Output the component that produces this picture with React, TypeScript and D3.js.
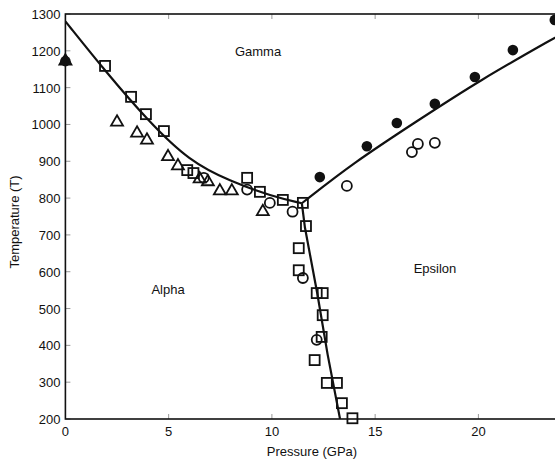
import React from "react";
import { scaleLinear, line, curveBasis, curveLinear, symbol, symbolTriangle, range } from "d3";

// boundaries [pressure, temperature]
const alphaGamma: [number, number][] = [
  [0, 1280], [2, 1140], [4, 1010], [6, 900], [8, 845], [10, 805], [11.45, 786],
];
const gammaEpsilon: [number, number][] = [
  [11.45, 786], [14, 898], [17, 1008], [20, 1118], [24, 1245],
];
const alphaEpsilon: [number, number][] = [
  [11.45, 786], [11.6, 720], [12.2, 540], [12.7, 375], [13.3, 200],
];

const squares: [number, number][] = [
  [1.92, 1159], [3.18, 1075], [3.9, 1028], [4.77, 982], [5.9, 876], [6.2, 868], [8.8, 855],
  [9.42, 817], [10.53, 795], [11.5, 787], [11.65, 724], [11.3, 664], [11.3, 604], [12.17, 542],
  [12.46, 542], [12.46, 482], [12.41, 423], [12.07, 360], [12.66, 298], [13.15, 298], [13.39, 243], [13.9, 202],
];
const triangles: [number, number][] = [
  [0, 1175], [2.5, 1009], [3.47, 979], [3.95, 960], [4.97, 915], [5.45, 890], [6.5, 855], [6.9, 847],
  [7.48, 822], [8.06, 822], [9.56, 766],
];
const openCircles: [number, number][] = [
  [6.7, 855], [8.8, 823], [9.9, 787], [11.0, 763], [11.5, 583], [12.17, 415], [13.63, 833],
  [16.78, 925], [17.07, 947], [17.89, 950],
];
const filledCircles: [number, number][] = [
  [0, 1172], [12.32, 857], [14.6, 941], [16.05, 1004], [17.89, 1056], [19.83, 1129], [21.67, 1202], [23.7, 1284],
];

const xTicks = [0, 5, 10, 15, 20];
const yTicks = range(200, 1301, 100);

const App = () => {
  const width = 555;
  const height = 464;
  const left = 65.4;
  const right = 561;
  const top = 14;
  const bottom = 419;

  const x = scaleLinear().domain([0, 24]).range([left, right]);
  const y = scaleLinear().domain([200, 1300]).range([bottom, top]);

  const smooth = line<[number, number]>()
    .x((d) => x(d[0]))
    .y((d) => y(d[1]))
    .curve(curveBasis);
  const straight = line<[number, number]>()
    .x((d) => x(d[0]))
    .y((d) => y(d[1]))
    .curve(curveLinear);

  const tri = symbol().type(symbolTriangle).size(62)();
  const font = "Liberation Sans, Arial, sans-serif";

  return (
    <svg width={width} height={height} style={{ position: "absolute", left: 0, top: 0, background: "#fff" }}>
      <defs>
        <clipPath id="plot">
          <rect x={left} y={top} width={right - left} height={bottom - top} />
        </clipPath>
      </defs>
      {/* inner ticks */}
      {xTicks.slice(1).map((t) => (
        <g key={"xt" + t} stroke="#999" strokeWidth={1}>
          <line x1={x(t)} x2={x(t)} y1={bottom} y2={bottom - 5} />
          <line x1={x(t)} x2={x(t)} y1={top} y2={top + 5} />
        </g>
      ))}
      {yTicks.map((t) => (
        <g key={"yt" + t} stroke="#999" strokeWidth={1}>
          <line x1={left} x2={left + 5} y1={y(t)} y2={y(t)} />
          <line x1={right} x2={right - 6} y1={y(t)} y2={y(t)} />
        </g>
      ))}
      <g clipPath="url(#plot)" fill="none" stroke="#111" strokeWidth={2.2}>
        <path d={smooth(alphaGamma) || ""} />
        <path d={smooth(gammaEpsilon) || ""} />
        <path d={straight(alphaEpsilon) || ""} />
      </g>
      <g fill="none" stroke="#111" strokeWidth={1.8}>
        {squares.map((d, i) => (
          <rect key={"s" + i} x={x(d[0]) - 5} y={y(d[1]) - 5} width={10} height={10} />
        ))}
        {triangles.map((d, i) => (
          <path key={"t" + i} d={tri || ""} transform={`translate(${x(d[0])},${y(d[1]) + 1})`} />
        ))}
        {openCircles.map((d, i) => (
          <circle key={"o" + i} cx={x(d[0])} cy={y(d[1])} r={5} />
        ))}
      </g>
      <g fill="#111">
        {filledCircles.map((d, i) => (
          <circle key={"f" + i} cx={x(d[0])} cy={y(d[1])} r={5.3} />
        ))}
      </g>
      {/* frame */}
      <rect x={left} y={top} width={right - left} height={bottom - top} fill="none" stroke="#111" strokeWidth={1.6} />
      {/* tick labels */}
      <g fontFamily={font} fontSize={13} fill="#111">
        {xTicks.map((t) => (
          <text key={"xl" + t} x={x(t)} y={bottom + 17} textAnchor="middle">
            {t}
          </text>
        ))}
        {yTicks.map((t) => (
          <text key={"yl" + t} x={left - 5} y={y(t) + 5} textAnchor="end">
            {t}
          </text>
        ))}
      </g>
      <g fontFamily={font} fontSize={13} fill="#111">
        <text x={312} y={456} textAnchor="middle">Pressure (GPa)</text>
        <text transform={`translate(19,222) rotate(-90)`} textAnchor="middle">Temperature (T)</text>
        <text x={258} y={56} textAnchor="middle">Gamma</text>
        <text x={168} y={294} textAnchor="middle">Alpha</text>
        <text x={435} y={273} textAnchor="middle">Epsilon</text>
      </g>
    </svg>
  );
};

export default App;
